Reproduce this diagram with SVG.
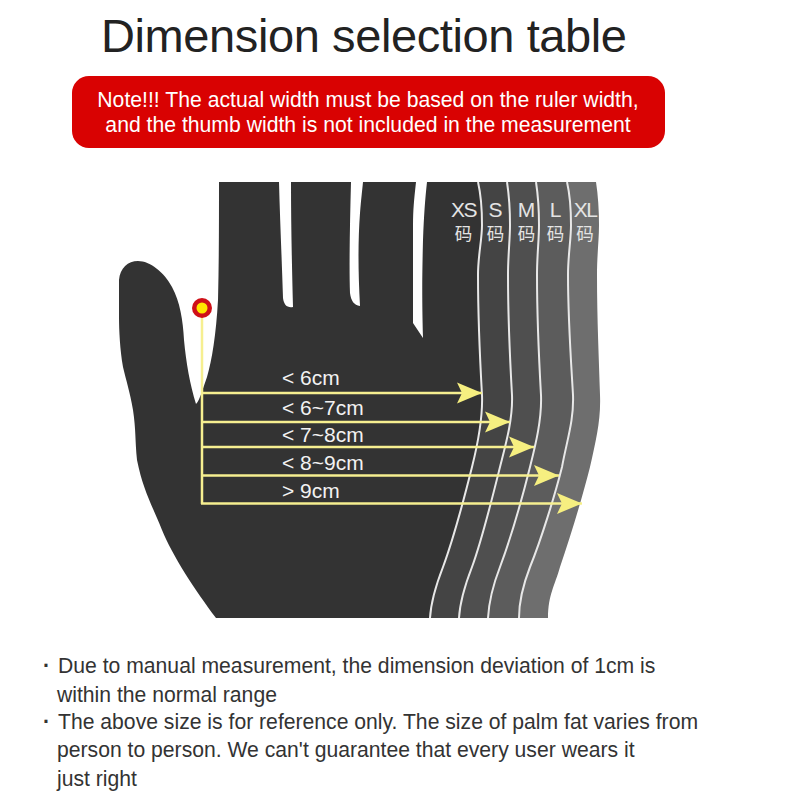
<svg xmlns="http://www.w3.org/2000/svg" width="800" height="800" viewBox="0 0 800 800">
<style>
text{font-family:"Liberation Sans",Arial,"Noto Sans CJK SC",sans-serif}
.contour{fill:none;stroke:#e8e8e8;stroke-width:2}
.arrow{fill:none;stroke:#f6ef90;stroke-width:2.500}
.size{font-size:21px;fill:#e4e4e4;text-anchor:middle}
.cjk{font-size:17.500px;fill:#e4e4e4;text-anchor:middle;font-family:"Noto Sans CJK SC",sans-serif}
.range{font-size:21px;fill:#f2f2f2}
.body{font-size:21.170px;fill:#333}
.note{font-size:21.200px;fill:#fff;text-anchor:middle}
</style>
<defs>
<marker id="head" markerUnits="userSpaceOnUse" markerWidth="26" markerHeight="24" viewBox="0 -12 26 24" refX="25" refY="0" orient="auto">
<path d="M0 -10.500L25 0L0 10.500L5 0Z" fill="#f6ef80"/>
</marker>
</defs>
<rect width="800" height="800" fill="#fff"/>
<g id="title"><text x="101" y="52" font-size="47" letter-spacing="-0.400" fill="#222">Dimension selection table</text></g>
<g id="note">
<rect x="72" y="76" width="593" height="72" rx="17" fill="#d90202"/>
<text class="note" x="368" y="107">Note!!! The actual width must be based on the ruler width,</text>
<text class="note" x="368" y="132">and the thumb width is not included in the measurement</text>
</g>
<g id="hand">
<path id="band-xl" fill="#6e6e6e" d="M470 182L596 182C598 195 599 210 599 225C599 240 597 255 597 275C597 320 599 360 600 395C601 420 596 440 590 467C583 495 571 535 560 567C555 585 548 595 548 618L425 618L460 400Z"/>
<path id="band-l" fill="#5c5c5c" d="M470 182L567 182C570 195 571 210 571 225C571 240 568 255 568 275C568 320 571 360 573 395C574 420 567 440 562 467C555 495 541 540 530 567C523 585 519 600 519 618L425 618L460 400Z"/>
<path id="band-m" fill="#4f4f4f" d="M470 182L536 182C538 195 539 210 539 225C539 240 537 255 537 275C537 320 539 360 541 395C542 420 535 447 530 467C523 495 510 540 500 567C493 585 489 600 488 618L425 618L460 400Z"/>
<path id="band-s" fill="#444" d="M470 182L507 182C509 195 510 210 510 225C510 240 508 255 508 275C508 320 510 360 512 395C513 420 505 447 500 467C493 495 482 540 472 567C465 585 460 600 459 618L425 618L460 400Z"/>
<path id="palm" fill="#333" d="M219 182L279 182C280 220 282 265 283 298C284 305 287 308 293 307C292 270 291 225 291 182L351 182C350 220 349 265 350 293C351 301 354 305 360 306C358 270 358 240 360 213C361 200 362 192 363 182L416 182C414 200 413 210 413 225C413 260 413 295 413 323L423 338C422 300 422 280 423 240C424 215 425 200 427 182L478 182C481 195 482 210 482 225C482 240 478 255 478 275C478 320 480 360 482 395C483 420 477 447 472 467C465 495 453 540 443 567C436 585 431 600 430 618L216 618C195 590 172 555 162 530C152 505 143 490 137 460C135 440 136 430 133 410C130 392 126 380 123 367C120 350 119 330 119 317L119 280C120 268 128 261 138 261C150 261 164 272 172 287C180 302 183 320 184 340C186 362 190 385 196 404C200 400 203 388 207 377C212 360 216 335 218 300C219 260 219 220 219 182Z"/>
<path class="contour" d="M478 182C481 195 482 210 482 225C482 240 478 255 478 275C478 320 480 360 482 395C483 420 477 447 472 467C465 495 453 540 443 567C436 585 431 600 430 618"/>
<path class="contour" d="M507 182C509 195 510 210 510 225C510 240 508 255 508 275C508 320 510 360 512 395C513 420 505 447 500 467C493 495 482 540 472 567C465 585 460 600 459 618"/>
<path class="contour" d="M536 182C538 195 539 210 539 225C539 240 537 255 537 275C537 320 539 360 541 395C542 420 535 447 530 467C523 495 510 540 500 567C493 585 489 600 488 618"/>
<path class="contour" d="M567 182C570 195 571 210 571 225C571 240 568 255 568 275C568 320 571 360 573 395C574 420 567 440 562 467C555 495 541 540 530 567C523 585 519 600 519 618"/>
</g>
<g id="size-labels">
<text class="size" x="463.500" y="217" letter-spacing="-1.500">XS</text><text class="cjk" x="463.500" y="240">码</text>
<text class="size" x="495.500" y="217">S</text><text class="cjk" x="495.500" y="240">码</text>
<text class="size" x="526.500" y="217">M</text><text class="cjk" x="526.500" y="240">码</text>
<text class="size" x="555.500" y="217">L</text><text class="cjk" x="555.500" y="240">码</text>
<text class="size" x="585" y="217" letter-spacing="-1.500">XL</text><text class="cjk" x="585" y="240">码</text>
</g>
<g id="connectors">
<path class="arrow" d="M202 312V504"/>
<path class="arrow" marker-end="url(#head)" d="M202 393H482"/>
<path class="arrow" marker-end="url(#head)" d="M202 422H510"/>
<path class="arrow" marker-end="url(#head)" d="M202 447H534"/>
<path class="arrow" marker-end="url(#head)" d="M202 475.500H559"/>
<path class="arrow" marker-end="url(#head)" d="M201 503.500H582"/>
</g>
<g id="marker-dot">
<circle cx="202" cy="308" r="10" fill="#cf1018"/>
<circle cx="202" cy="308" r="5.500" fill="#ffe600"/>
</g>
<g id="range-labels">
<text class="range" x="282" y="385">&lt; 6cm</text>
<text class="range" x="282" y="415">&lt; 6~7cm</text>
<text class="range" x="282" y="442">&lt; 7~8cm</text>
<text class="range" x="282" y="470">&lt; 8~9cm</text>
<text class="range" x="282" y="498">&gt; 9cm</text>
</g>
<g id="notes">
<text class="body" x="43" y="673" font-weight="bold">·</text><text class="body" x="58" y="673">Due to manual measurement, the dimension deviation of 1cm is</text>
<text class="body" x="57" y="701.500">within the normal range</text>
<text class="body" x="43" y="729" font-weight="bold">·</text><text class="body" x="58" y="729">The above size is for reference only. The size of palm fat varies from</text>
<text class="body" x="57" y="757">person to person. We can't guarantee that every user wears it</text>
<text class="body" x="57" y="786">just right</text>
</g>
</svg>
